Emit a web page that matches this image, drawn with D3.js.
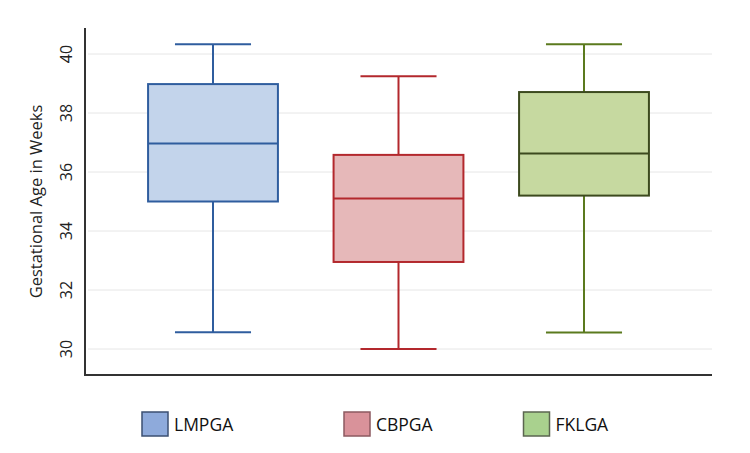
<!DOCTYPE html>
<html><head><meta charset="utf-8">
<script src="https://cdn.jsdelivr.net/npm/d3@7"></script>
<style>body{margin:0;background:#fff}svg{display:block}</style>
</head><body>
<svg id="c" width="750" height="453"></svg>
<script>
const categories = ["LMPGA", "CBPGA", "FKLGA"];
const whiskerLow  = [30.57, 30.0, 30.56];
const q1          = [35.0, 32.95, 35.2];
const median      = [36.97, 35.1, 36.63];
const q3          = [38.98, 36.58, 38.71];
const whiskerHigh = [40.33, 39.25, 40.33];
const yTicks = [30, 32, 34, 36, 38, 40];
const yTitle = "Gestational Age in Weeks";

const boxFill = ["#c3d4eb", "#e6b8b9", "#c6d9a0"];
const boxStroke = ["#2f5d9e", "#b3282d", "#3c4a1e"];
const whiskStroke = ["#2f5d9e", "#b3282d", "#5b7a1e"];
const legFill = ["#8eaadb", "#d9929a", "#a9d18e"];
const legStroke = ["#3b4f72", "#8c5a60", "#5b6550"];

const svg = d3.select("#c");
const x0 = 85, x1 = 712, yTop = 28, yBot = 375;
const y = d3.scaleLinear().domain([30, 40]).range([349, 54]);
const x = d3.scalePoint().domain(categories).range([x0, x1]).padding(0.69);
const step = x.step();
const boxW = step * 0.70, capW = step * 0.41;

// gridlines
svg.append("g").selectAll("line").data(yTicks).join("line")
  .attr("x1", x0 + 3).attr("x2", x1).attr("y1", d => y(d)).attr("y2", d => y(d))
  .attr("stroke", "#e6e6e6").attr("stroke-width", 1);

// y tick labels (rotated)
svg.append("g").selectAll("text").data(yTicks).join("text")
  .attr("transform", d => `translate(72,${y(d)}) rotate(-90)`)
  .attr("text-anchor", "middle")
  .attr("font-family", "Open Sans, sans-serif").attr("font-size", 16).attr("fill", "#222")
  .text(d => d);

// y title
svg.append("text")
  .attr("transform", `translate(42,${(yTop + yBot) / 2}) rotate(-90)`)
  .attr("text-anchor", "middle")
  .attr("font-family", "Open Sans, sans-serif").attr("font-size", 16.5).attr("fill", "#222")
  .text(yTitle);

// boxes
const data = categories.map((c, i) => ({c, i, lo: whiskerLow[i], q1: q1[i], med: median[i], q3: q3[i], hi: whiskerHigh[i]}));
const g = svg.append("g").selectAll("g").data(data).join("g");
g.append("line").attr("x1", d => x(d.c)).attr("x2", d => x(d.c))
  .attr("y1", d => y(d.hi)).attr("y2", d => y(d.q3))
  .attr("stroke", d => whiskStroke[d.i]).attr("stroke-width", 2);
g.append("line").attr("x1", d => x(d.c)).attr("x2", d => x(d.c))
  .attr("y1", d => y(d.q1)).attr("y2", d => y(d.lo))
  .attr("stroke", d => whiskStroke[d.i]).attr("stroke-width", 2);
g.append("line").attr("x1", d => x(d.c) - capW / 2).attr("x2", d => x(d.c) + capW / 2)
  .attr("y1", d => y(d.hi)).attr("y2", d => y(d.hi))
  .attr("stroke", d => whiskStroke[d.i]).attr("stroke-width", 2);
g.append("line").attr("x1", d => x(d.c) - capW / 2).attr("x2", d => x(d.c) + capW / 2)
  .attr("y1", d => y(d.lo)).attr("y2", d => y(d.lo))
  .attr("stroke", d => whiskStroke[d.i]).attr("stroke-width", 2);
g.append("rect").attr("x", d => x(d.c) - boxW / 2).attr("width", boxW)
  .attr("y", d => y(d.q3)).attr("height", d => y(d.q1) - y(d.q3))
  .attr("fill", d => boxFill[d.i]).attr("stroke", d => boxStroke[d.i]).attr("stroke-width", 2);
g.append("line").attr("x1", d => x(d.c) - boxW / 2).attr("x2", d => x(d.c) + boxW / 2)
  .attr("y1", d => y(d.med)).attr("y2", d => y(d.med))
  .attr("stroke", d => boxStroke[d.i]).attr("stroke-width", 2);

// axes lines
svg.append("line").attr("x1", x0).attr("x2", x0).attr("y1", yTop).attr("y2", yBot)
  .attr("stroke", "#333").attr("stroke-width", 2);
svg.append("line").attr("x1", x0 - 1).attr("x2", x1).attr("y1", yBot).attr("y2", yBot)
  .attr("stroke", "#333").attr("stroke-width", 2);

// legend
const legX = [142, 344, 523.5];
const lg = svg.append("g").selectAll("g").data(categories).join("g")
  .attr("transform", (d, i) => `translate(${legX[i]},412)`);
lg.append("rect").attr("width", 26).attr("height", 24)
  .attr("fill", (d, i) => legFill[i]).attr("stroke", (d, i) => legStroke[i]).attr("stroke-width", 1.5);
lg.append("text").attr("x", 32).attr("y", 19)
  .attr("font-family", "Open Sans, sans-serif").attr("font-size", 17.5).attr("fill", "#111")
  .text(d => d);
</script>
</body></html>
